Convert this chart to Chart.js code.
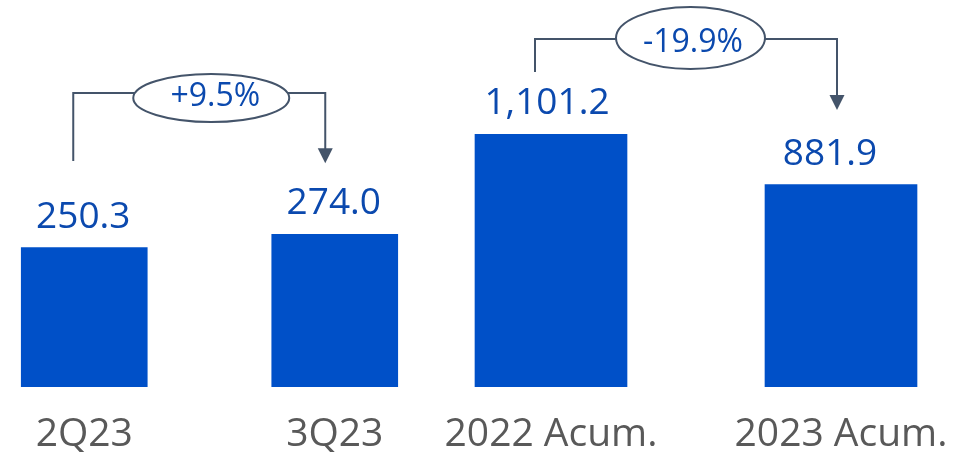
<!DOCTYPE html>
<html>
<head>
<meta charset="utf-8">
<script src="https://cdn.jsdelivr.net/npm/chart.js@4.4.1/dist/chart.umd.min.js"></script>
<style>
  html, body { margin: 0; padding: 0; width: 979px; height: 459px; overflow: hidden; background: #ffffff; }
  .box { position: absolute; top: 0; height: 459px; }
  #boxQ { left: -41px; width: 501px; }
  #boxA { left: 406px; width: 580px; }
</style>
</head>
<body>
<div class="box" id="boxQ"><canvas id="cq"></canvas></div>
<div class="box" id="boxA"><canvas id="ca"></canvas></div>
<script>
// ---- data ----
const quarterLabels = ['2Q23', '3Q23'];
const quarterValues = [250.3, 274.0];
const annualLabels = ['2022 Acum.', '2023 Acum.'];
const annualValues = [1101.2, 881.9];
const changeLabels = ['+9.5%', '-19.9%'];

const BAR = '#0050C8';
const VALUE_TXT = '#0B49AE';
const TICK_TXT = '#595959';
const LINE = '#44546A';
const FONT = "'Open Sans', 'Liberation Sans', sans-serif";

function fmt(v) {
  return v.toLocaleString('en-US', { minimumFractionDigits: 1, maximumFractionDigits: 1 });
}

const annotatePlugin = {
  id: 'annotate',
  afterDatasetsDraw(chart, args, opts) {
    const ctx = chart.ctx;
    const meta = chart.getDatasetMeta(0);
    const ys = chart.scales.y;
    const ds = chart.data.datasets[0];
    ctx.save();
    // value labels
    ctx.font = '37px ' + FONT;
    ctx.fillStyle = VALUE_TXT;
    ctx.textAlign = 'center';
    ctx.textBaseline = 'alphabetic';
    meta.data.forEach((bar, i) => {
      ctx.fillText(fmt(ds.data[i]), bar.x + (opts.labelDx ? opts.labelDx[i] : 0), bar.y - 20);
    });
    // bracket
    const b = opts.bracket;
    const x0 = meta.data[0].x + b.startDx;
    const x1 = meta.data[1].x + b.endDx;
    const yLine = ys.getPixelForValue(b.lineVal);
    const yStart = ys.getPixelForValue(b.startVal);
    const yTip = ys.getPixelForValue(b.tipVal);
    const ah = 15, aw = 7.5;
    ctx.strokeStyle = LINE;
    ctx.lineWidth = 2;
    ctx.beginPath();
    ctx.moveTo(x0, yStart);
    ctx.lineTo(x0, yLine);
    ctx.lineTo(x1, yLine);
    ctx.lineTo(x1, yTip - ah + 1);
    ctx.stroke();
    ctx.fillStyle = LINE;
    ctx.beginPath();
    ctx.moveTo(x1 - aw, yTip - ah);
    ctx.lineTo(x1 + aw, yTip - ah);
    ctx.lineTo(x1, yTip);
    ctx.closePath();
    ctx.fill();
    // ellipse
    const ex = meta.data[0].x + b.ellDx;
    const ey = yLine + b.ellDy;
    ctx.beginPath();
    ctx.ellipse(ex, ey, b.rx, b.ry, 0, 0, Math.PI * 2);
    ctx.fillStyle = '#ffffff';
    ctx.fill();
    ctx.lineWidth = 2;
    ctx.strokeStyle = LINE;
    ctx.stroke();
    ctx.font = '32px ' + FONT;
    ctx.fillStyle = VALUE_TXT;
    ctx.textAlign = 'center';
    ctx.textBaseline = 'middle';
    ctx.fillText(b.text, ex + b.textDx, ey + b.textDy);
    ctx.restore();
  }
};

function makeChart(id, labels, values, thickness, yMax, bracket, labelDx) {
  return new Chart(document.getElementById(id), {
    type: 'bar',
    data: {
      labels: labels,
      datasets: [{
        data: values,
        backgroundColor: BAR,
        borderWidth: 0,
        barThickness: thickness
      }]
    },
    options: {
      responsive: true,
      maintainAspectRatio: false,
      animation: false,
      layout: { padding: 0 },
      plugins: {
        legend: { display: false },
        tooltip: { enabled: false },
        annotate: { bracket: bracket, labelDx: labelDx }
      },
      scales: {
        x: {
          offset: true,
          grid: { display: false, drawTicks: false },
          border: { display: false },
          ticks: {
            color: TICK_TXT,
            font: { family: FONT, size: 39 },
            padding: 24,
            maxRotation: 0,
            autoSkip: false
          },
          afterFit(scale) { scale.height = 72; }
        },
        y: {
          display: false,
          min: 0,
          max: yMax
        }
      }
    },
    plugins: [annotatePlugin]
  });
}

makeChart('cq', quarterLabels, quarterValues, 126, 695,
  { startDx: -11, endDx: -9.5, lineVal: 528, startVal: 406, tipVal: 402,
    ellDx: 127, ellDy: 5, rx: 78, ry: 24, text: changeLabels[0], textDx: 4, textDy: -1 },
  [-1, -1]);

makeChart('ca', annualLabels, annualValues, 152, 1687,
  { startDx: -16, endDx: -4, lineVal: 1517, startVal: 1373, tipVal: 1207,
    ellDx: 139.5, ellDy: -1, rx: 74.5, ry: 31, text: changeLabels[1], textDx: 2.5, textDy: 5 },
  [-4, -11]);
</script>
</body>
</html>
